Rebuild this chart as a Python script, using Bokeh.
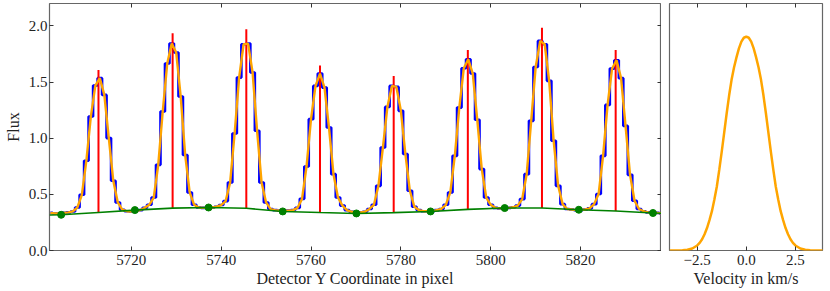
from bokeh.plotting import figure
from bokeh.layouts import row
from bokeh.models import Range1d, FixedTicker, LinearAxis, CustomJSTickFormatter
from bokeh.embed import file_html
from bokeh.resources import INLINE

# ---------------- data ----------------
pixel_start = 5702
flux = [
    0.335, 0.330, 0.330, 0.335, 0.340, 0.348, 0.383, 0.496,          # 5702-5709
    0.799, 1.193, 1.469, 1.535, 1.386, 1.001, 0.621, 0.428, 0.363, 0.350,  # 5710-5719
    0.348, 0.352, 0.360, 0.380, 0.407, 0.472, 0.763, 1.238, 1.665, 1.843,  # 5720-5729
    1.763, 1.371, 0.850, 0.517, 0.407, 0.383, 0.380, 0.380, 0.383, 0.390,  # 5730-5739
    0.405, 0.440, 0.606, 1.042, 1.540, 1.837, 1.843, 1.585, 1.066, 0.606,  # 5740-5749
    0.428, 0.369, 0.360, 0.355, 0.355, 0.355, 0.360, 0.380, 0.460, 0.748,  # 5750-5759
    1.170, 1.466, 1.576, 1.451, 1.095, 0.680, 0.472, 0.400, 0.360, 0.345,  # 5760-5769
    0.340, 0.340, 0.345, 0.370, 0.407, 0.576, 0.917, 1.279, 1.466, 1.457,  # 5770-5779
    1.244, 0.860, 0.532, 0.390, 0.360, 0.350, 0.350, 0.350, 0.360, 0.370,  # 5780-5789
    0.407, 0.517, 0.843, 1.273, 1.623, 1.703, 1.576, 1.164, 0.725, 0.472,  # 5790-5799
    0.407, 0.380, 0.375, 0.375, 0.380, 0.385, 0.400, 0.458, 0.680, 1.155,  # 5800-5809
    1.635, 1.867, 1.837, 1.511, 0.977, 0.576, 0.413, 0.370, 0.365, 0.360,  # 5810-5819
    0.360, 0.365, 0.375, 0.413, 0.503, 0.843, 1.297, 1.620, 1.695, 1.535,  # 5820-5829
    1.110, 0.674, 0.443, 0.370, 0.350, 0.340, 0.335, 0.335, 0.330,         # 5830-5838
]
pixels = list(range(pixel_start, pixel_start + len(flux)))

line_x = [5712.7, 5729.2, 5745.6, 5762.0, 5778.4, 5794.9, 5811.4, 5827.8]
line_base = [0.339, 0.377, 0.376, 0.338, 0.337, 0.366, 0.378, 0.352]
line_top = [1.608, 1.935, 1.971, 1.647, 1.555, 1.786, 1.985, 1.786]

cont_pts_x = [5704.4, 5720.8, 5737.2, 5753.7, 5770.1, 5786.6, 5803.1, 5819.6, 5836.1]
cont_pts_y = [0.318, 0.360, 0.383, 0.348, 0.330, 0.348, 0.378, 0.363, 0.334]

cont_x = [5701.8, 5704.4, 5712.7, 5720.8, 5729.2, 5737.2, 5745.6, 5753.7, 5762.0,
          5770.1, 5778.4, 5786.6, 5794.9, 5803.1, 5811.4, 5819.6, 5827.8, 5836.1, 5838.0]
cont_y = [0.316, 0.318, 0.339, 0.360, 0.377, 0.383, 0.376, 0.348, 0.338,
          0.330, 0.337, 0.348, 0.366, 0.378, 0.378, 0.363, 0.352, 0.334, 0.332]

velocity = [-3.9, -3.5, -3.25, -3.0, -2.75, -2.5, -2.375, -2.25, -2.125, -2.0, -1.875,
            -1.75, -1.625, -1.5, -1.375, -1.25, -1.125, -1.0, -0.875, -0.75, -0.625,
            -0.5, -0.375, -0.25, -0.125, 0.0, 0.125, 0.25, 0.375, 0.5, 0.625, 0.75,
            0.875, 1.0, 1.125, 1.25, 1.375, 1.5, 1.625, 1.75, 1.875, 2.0, 2.125, 2.25,
            2.375, 2.5, 2.75, 3.0, 3.25, 3.5, 3.9]
ccf = [0.0, 0.001, 0.003, 0.007, 0.018, 0.045, 0.068, 0.100, 0.145, 0.200, 0.270,
       0.350, 0.455, 0.570, 0.720, 0.880, 1.050, 1.220, 1.380, 1.520, 1.630,
       1.720, 1.800, 1.860, 1.895, 1.905, 1.895, 1.860, 1.800, 1.720, 1.630, 1.520,
       1.380, 1.220, 1.050, 0.880, 0.720, 0.570, 0.455, 0.350, 0.270, 0.200, 0.145, 0.100,
       0.068, 0.045, 0.018, 0.007, 0.003, 0.001, 0.0]

x_ticks = [5720, 5740, 5760, 5780, 5800, 5820]
y_ticks = [0.0, 0.5, 1.0, 1.5, 2.0]
v_ticks = [-2.5, 0.0, 2.5]

# ---------------- style ----------------
FONT = "Liberation Serif"
TICK_FS = "15px"
LABEL_FS = "16px"
FRAME_COL = "#666666"
TICK_COL = "#333333"

fmt1 = CustomJSTickFormatter(code="""
    const s = Math.abs(tick).toFixed(1);
    return tick < 0 ? '\u2212' + s : s;
""")
fmt0 = CustomJSTickFormatter(code="return tick.toFixed(0);")
blank = CustomJSTickFormatter(code="return '';")


def style_axis(ax, labels=True):
    ax.major_tick_in = 4
    ax.major_tick_out = 0
    ax.minor_tick_in = 0
    ax.minor_tick_out = 0
    ax.major_tick_line_color = TICK_COL
    ax.axis_line_color = None
    ax.major_label_text_font = FONT
    ax.major_label_text_font_size = TICK_FS
    ax.major_label_text_color = "#222222"
    ax.axis_label_text_font = FONT
    ax.axis_label_text_font_size = LABEL_FS
    ax.axis_label_text_font_style = "normal"
    ax.axis_label_text_color = "#222222"
    if not labels:
        ax.formatter = blank
        ax.major_label_standoff = 0
        ax.major_label_text_font_size = "0px"


# ---------------- left panel ----------------
p1 = figure(frame_width=612, frame_height=247,
            x_range=Range1d(5701.8, 5838.0), y_range=Range1d(0, 2.2),
            output_backend="svg", toolbar_location=None,
            min_border_left=49, min_border_right=0, min_border_top=3, min_border_bottom=38,
            x_axis_label="Detector Y Coordinate in pixel", y_axis_label="Flux")
p1.grid.visible = False
p1.outline_line_color = FRAME_COL
p1.outline_line_width = 1.2
p1.background_fill_color = "white"
p1.border_fill_color = "white"

p1.xaxis.ticker = FixedTicker(ticks=x_ticks)
p1.xaxis.formatter = fmt0
p1.yaxis.ticker = FixedTicker(ticks=y_ticks)
p1.yaxis.formatter = fmt1
for ax in list(p1.xaxis) + list(p1.yaxis):
    style_axis(ax)
p1.xaxis.major_label_standoff = 4
p1.xaxis.axis_label_standoff = 2
p1.yaxis.major_label_standoff = 2
p1.yaxis.axis_label_standoff = 4

top1 = LinearAxis(ticker=FixedTicker(ticks=x_ticks))
style_axis(top1, labels=False)
p1.add_layout(top1, "above")
right1 = LinearAxis(ticker=FixedTicker(ticks=y_ticks))
style_axis(right1, labels=False)
p1.add_layout(right1, "right")

p1.step(pixels, flux, mode="center", line_color="blue", line_width=2.6)
p1.segment(x0=line_x, y0=line_base, x1=line_x, y1=line_top, line_color="red", line_width=2)
p1.line(pixels, flux, line_color="orange", line_width=2.4)
p1.line(cont_x, cont_y, line_color="green", line_width=1.6)
p1.scatter(cont_pts_x, cont_pts_y, size=7, fill_color="green", line_color="green")

# ---------------- right panel ----------------
p2 = figure(frame_width=153, frame_height=247,
            x_range=Range1d(-3.91, 3.88), y_range=Range1d(0, 2.2),
            output_backend="svg", toolbar_location=None,
            min_border_left=8, min_border_right=8, min_border_top=3, min_border_bottom=38,
            x_axis_label="Velocity in km/s")
p2.grid.visible = False
p2.outline_line_color = FRAME_COL
p2.outline_line_width = 1.2
p2.yaxis.visible = False
p2.xaxis.ticker = FixedTicker(ticks=v_ticks)
p2.xaxis.formatter = fmt1
for ax in list(p2.xaxis):
    style_axis(ax)
p2.xaxis.major_label_standoff = 4
p2.xaxis.axis_label_standoff = 2
top2 = LinearAxis(ticker=FixedTicker(ticks=v_ticks))
style_axis(top2, labels=False)
p2.add_layout(top2, "above")

p2.line(velocity, ccf, line_color="orange", line_width=2.5)

layout = row(p1, p2)

open("out.html", "w").write(file_html(layout, INLINE))
